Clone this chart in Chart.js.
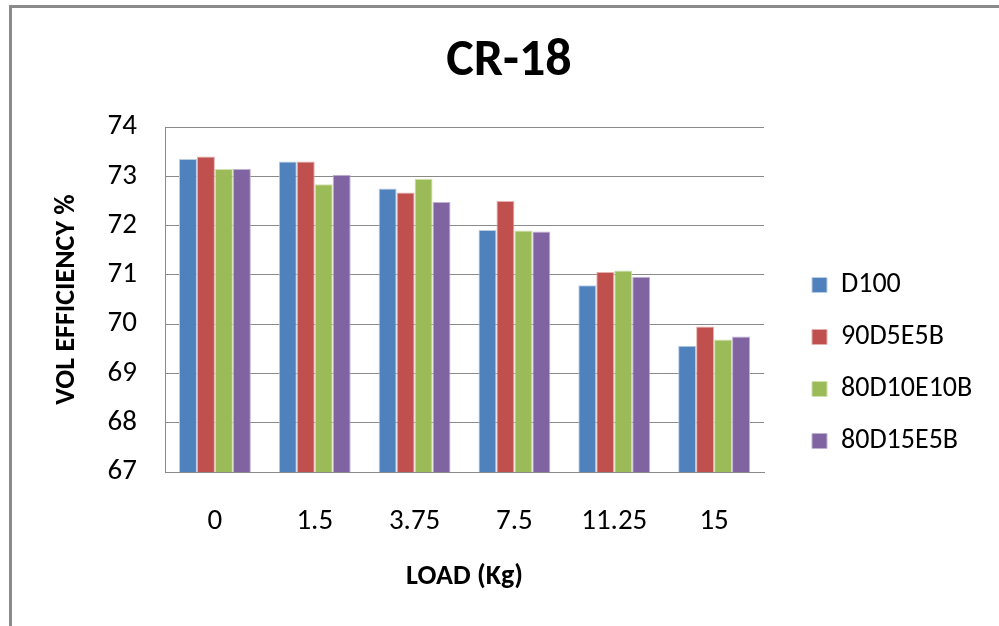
<!DOCTYPE html>
<html>
<head>
<meta charset="utf-8">
<title>CR-18</title>
<script src="https://cdn.jsdelivr.net/npm/chart.js@4.4.1/dist/chart.umd.min.js"></script>
<style>
  html, body { margin: 0; padding: 0; width: 999px; height: 626px; overflow: hidden; background: #fff; }
  #frame { position: absolute; left: 9px; top: 5px; width: 1200px; height: 1000px;
           border-left: 3px solid #8a8a8a; border-top: 3px solid #8a8a8a; }
  #chart { position: absolute; left: 0; top: 0; }
</style>
</head>
<body>
<div id="frame"></div>
<canvas id="chart" width="999" height="726"></canvas>
<script>
// Load (kg) categories on the x axis
const loads = ['0', '1.5', '3.75', '7.5', '11.25', '15'];

// Volumetric efficiency (%) for each fuel blend
const d100       = [73.35, 73.30, 72.75, 71.91, 70.79, 69.56];
const b90D5E5B   = [73.40, 73.30, 72.67, 72.50, 71.06, 69.95];
const b80D10E10B = [73.15, 72.84, 72.95, 71.90, 71.09, 69.69];
const b80D15E5B  = [73.15, 73.03, 72.48, 71.88, 70.96, 69.75];

const seriesNames = ['D100', '90D5E5B', '80D10E10B', '80D15E5B'];
const yTicks = { min: 67, max: 74, step: 1 };

const FONT = 'Carlito, Calibri, Lato, sans-serif';
const fills   = ['#4F81BD', '#C0504D', '#9BBB59', '#8064A2'];
const borders = ['#b9cde6', '#e3b0ae', '#cfe0ac', '#bfb1d2'];
const axisGray = '#8a8a8a';

const seriesValues = [d100, b90D5E5B, b80D10E10B, b80D15E5B];

new Chart(document.getElementById('chart'), {
  type: 'bar',
  data: {
    labels: loads,
    datasets: seriesNames.map((name, i) => ({
      label: name,
      data: seriesValues[i],
      backgroundColor: fills[i],
      borderColor: borders[i],
      borderWidth: 1,
      categoryPercentage: 0.72,
      barPercentage: 1.0
    }))
  },
  options: {
    responsive: false,
    animation: false,
    layout: { padding: { left: 40, right: 21, top: 0, bottom: 0 } },
    plugins: {
      tooltip: { enabled: false },
      title: {
        display: true,
        text: 'CR-18',
        color: '#000',
        font: { family: FONT, size: 52, weight: 'bold', lineHeight: 1.2 },
        padding: { top: 31, bottom: 33.6 }
      },
      legend: {
        position: 'right',
        align: 'center',
        maxWidth: 190,
        labels: {
          boxWidth: 15,
          boxHeight: 15,
          padding: 24,
          color: '#000',
          font: { family: FONT, size: 28 }
        }
      }
    },
    scales: {
      x: {
        grid: { display: false, drawTicks: false },
        border: { display: true, color: axisGray, width: 1 },
        ticks: { color: '#000', padding: 32, font: { family: FONT, size: 29, lineHeight: 1.2 } },
        title: {
          display: true,
          text: 'LOAD (Kg)',
          color: '#000',
          font: { family: FONT, size: 28, weight: 'bold', lineHeight: 1.2 },
          padding: { top: 0, bottom: 132 }
        },
        afterFit(scale) { scale.height = 254; }
      },
      y: {
        min: yTicks.min,
        max: yTicks.max,
        ticks: { stepSize: yTicks.step, padding: 28, color: '#000', font: { family: FONT, size: 29 } },
        grid: { color: axisGray, drawTicks: false, lineWidth: 1 },
        border: { display: true, color: axisGray, width: 1 },
        title: {
          display: true,
          text: 'VOL EFFICIENCY %',
          color: '#000',
          font: { family: FONT, size: 28, weight: 'bold', lineHeight: 1.2 },
          padding: { top: 10, bottom: 0 }
        },
        afterFit(scale) { scale.width = 125; }
      },
      gap: {
        type: 'linear',
        position: 'right',
        display: true,
        grid: { display: false, drawTicks: false },
        border: { display: false },
        ticks: { display: false },
        afterFit(scale) { scale.width = 24; }
      }
    }
  }
});
</script>
</body>
</html>
